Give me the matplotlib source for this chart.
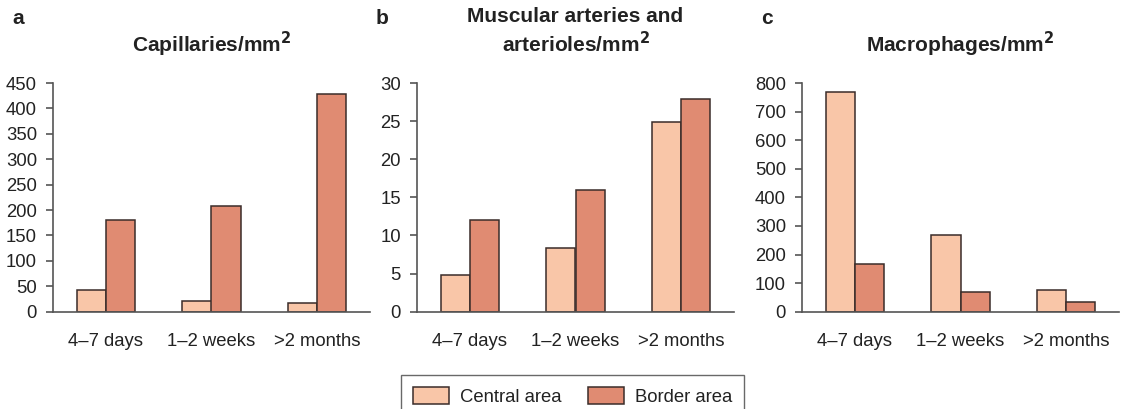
import numpy as np
import matplotlib
matplotlib.use('Agg')
import matplotlib.pyplot as plt

plt.rcParams['font.family'] = ['Liberation Sans', 'DejaVu Sans']

kategori = ['4\u20137 days', '1\u20132 weeks', '>2 months']
seri = ['Central area', 'Border area']

# nilai
kapiler_central = [43, 21, 18]
kapiler_border = [181, 207, 428]
arteri_central = [4.8, 8.3, 24.9]
arteri_border = [12.0, 16.0, 27.9]
makrofag_central = [767, 268, 76]
makrofag_border = [168, 70, 34]

judul = ['Capillaries/mm$^\\mathbf{2}$',
         'Muscular arteries and\narterioles/mm$^\\mathbf{2}$',
         'Macrophages/mm$^\\mathbf{2}$']
huruf = ['a', 'b', 'c']
batas_y = [450, 30, 800]
langkah_y = [50, 5, 100]

warna_central = '#F9C6A8'
warna_border = '#E08B72'
warna_tepi = '#3a2c2a'
warna_sumbu = '#555555'

gambar = plt.figure(figsize=(11.22, 4.09), dpi=100)

kiri = [53, 417, 802]
bawah = 1 - 311.7 / 409
tinggi = (311.7 - 83) / 409
lebar = 317 / 1122

data_panel = [
    (kapiler_central, kapiler_border),
    (arteri_central, arteri_border),
    (makrofag_central, makrofag_border),
]

x = np.arange(len(kategori))
w = 0.275

for i in range(3):
    ax = gambar.add_axes([kiri[i] / 1122, bawah, lebar, tinggi])
    c, b = data_panel[i]
    ax.bar(x - w / 2, c, w, color=warna_central, edgecolor=warna_tepi,
           linewidth=1.1, label=seri[0])
    ax.bar(x + w / 2, b, w, color=warna_border, edgecolor=warna_tepi,
           linewidth=1.1, label=seri[1])

    ax.set_xlim(-0.5, 2.5)
    ax.set_ylim(0, batas_y[i])
    ax.set_yticks(np.arange(0, batas_y[i] + 1, langkah_y[i]))
    ax.set_xticks(x)
    ax.set_xticklabels(kategori)

    for s in ['top', 'right']:
        ax.spines[s].set_visible(False)
    for s in ['left', 'bottom']:
        ax.spines[s].set_color(warna_sumbu)
        ax.spines[s].set_linewidth(1.2)

    ax.tick_params(axis='y', direction='out', length=5, width=1.2,
                   color=warna_sumbu, labelsize=13.3, labelcolor='#222222', pad=6.5)
    ax.tick_params(axis='x', length=0, labelsize=13.3, labelcolor='#222222', pad=15)

    ax.set_title(judul[i], fontsize=15, fontweight='bold', color='#222222',
                 pad=22, linespacing=1.25)

    gambar.text((kiri[i] - 41) / 1122, 1 - 18 / 409, huruf[i], fontsize=15,
                fontweight='bold', color='#222222', va='center', ha='left')

    if i == 0:
        pegangan, label = ax.get_legend_handles_labels()

leg = gambar.legend(pegangan, label, loc='upper center',
                    bbox_to_anchor=(572.5 / 1122, 1 - 375 / 409),
                    ncol=2, fontsize=13.3, frameon=True, fancybox=False,
                    handlelength=1.95, handleheight=1.0, handletextpad=0.6,
                    columnspacing=1.4, borderpad=0.65, borderaxespad=0)
leg.get_frame().set_edgecolor('#444444')
leg.get_frame().set_linewidth(1.0)
for t in leg.get_texts():
    t.set_color('#222222')

gambar.savefig('out.png', dpi=100)
